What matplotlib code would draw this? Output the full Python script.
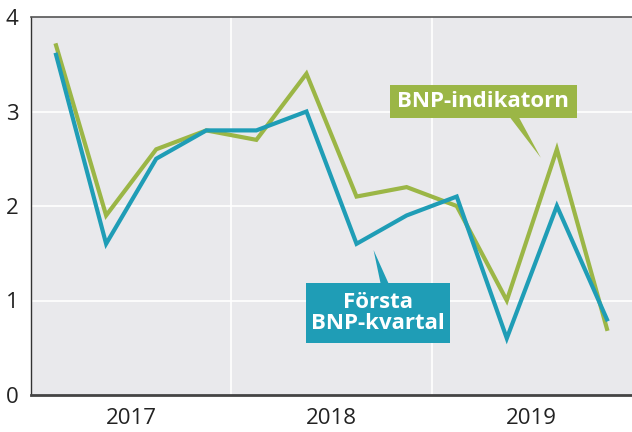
import matplotlib
matplotlib.use("Agg")
import matplotlib.pyplot as plt
from matplotlib.patches import Rectangle, Polygon

years = ["2017", "2018", "2019"]
bnp_indikatorn = [3.7, 1.9, 2.6, 2.8, 2.7, 3.4, 2.1, 2.2, 2.0, 1.0, 2.6, 0.7]
forsta_bnp = [3.6, 1.6, 2.5, 2.8, 2.8, 3.0, 1.6, 1.9, 2.1, 0.6, 2.0, 0.8]
yticks = [0, 1, 2, 3, 4]

green = "#9bb646"
teal = "#1f9db6"
bg = "#e9e9ec"

plt.rcParams['font.family'] = ['Open Sans', 'DejaVu Sans']
tick_family = ['Liberation Sans Narrow', 'Open Sans', 'DejaVu Sans']

fig = plt.figure(figsize=(6.32, 4.32), dpi=100)
ax = fig.add_axes([31/632, 1-395/432, 601/632, (395-17)/432])
ax.set_facecolor(bg)

x = [i + 0.5 for i in range(len(bnp_indikatorn))]
ax.plot(x, bnp_indikatorn, color=green, lw=3, solid_joinstyle='miter', zorder=3)
ax.plot(x, forsta_bnp, color=teal, lw=3, solid_joinstyle='miter', zorder=4)

ax.set_xlim(0, 12)
ax.set_ylim(0, 4)
ax.set_yticks(yticks)
ax.set_yticklabels([str(v) for v in yticks], fontsize=16, color="#222222", family=tick_family)
ax.set_xticks([2, 6, 10])
ax.set_xticklabels(years, fontsize=16, color="#222222", family=tick_family)
ax.tick_params(axis='both', length=0)
ax.tick_params(axis='y', pad=9)
ax.tick_params(axis='x', pad=9)

for yv in [1, 2, 3]:
    ax.axhline(yv, color="white", lw=1.2, zorder=1)
for xv in [4, 8]:
    ax.axvline(xv, color="white", lw=1.2, zorder=1)

ax.spines['right'].set_visible(False)
ax.spines['left'].set_color("#333333")
ax.spines['left'].set_linewidth(1.0)
ax.spines['bottom'].set_color("#444444")
ax.spines['bottom'].set_linewidth(2.0)
ax.spines['top'].set_color("#555555")
ax.spines['top'].set_linewidth(1.2)

# Callout: BNP-indikatorn
ax.add_patch(Rectangle((7.16, 2.93), 10.9-7.16, 3.28-2.93, facecolor=green, edgecolor='none', zorder=5))
ax.add_patch(Polygon([(9.56, 2.94), (9.74, 2.94), (10.18, 2.51)], closed=True, facecolor=green, edgecolor='none', zorder=5))
ax.text(9.03, 3.106, "BNP-indikatorn", color="white", fontsize=16, fontweight='bold',
        ha='center', va='center', zorder=6)

# Callout: Första BNP-kvartal
ax.add_patch(Rectangle((5.5, 0.55), 8.36-5.5, 1.185-0.55, facecolor=teal, edgecolor='none', zorder=5))
ax.add_patch(Polygon([(6.98, 1.18), (7.14, 1.18), (6.84, 1.534)], closed=True, facecolor=teal, edgecolor='none', zorder=5))
ax.text(6.93, 0.868, "Första\nBNP-kvartal", color="white", fontsize=16, fontweight='bold',
        ha='center', va='center', linespacing=1.0, zorder=6)

fig.savefig("out.png", dpi=100, facecolor="white")
